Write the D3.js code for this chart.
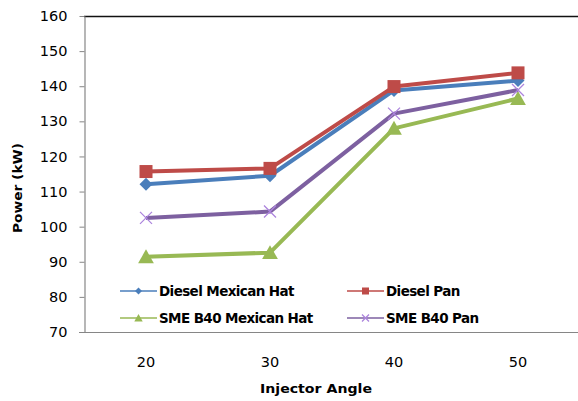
<!DOCTYPE html>
<html>
<head>
<meta charset="utf-8">
<script src="https://cdn.jsdelivr.net/npm/d3@7"></script>
<style>
  html, body { margin: 0; padding: 0; background: #fff; }
  svg { display: block; }
  text { font-family: "DejaVu Sans", Verdana, sans-serif; fill: #000; }
</style>
</head>
<body>
<svg id="chart" width="578" height="401"></svg>
<script>
// Injector angle categories (degrees)
const angles = ["20", "30", "40", "50"];

// Engine power (kW) for each fuel / piston-bowl combination
const dieselMexicanHat = [112.1, 114.5, 138.8, 141.6];
const dieselPan        = [115.7, 116.6, 139.9, 143.8];
const smeMexicanHat    = [91.4, 92.6, 128.0, 136.5];
const smePan           = [102.5, 104.3, 132.2, 138.9];

const seriesNames  = ["Diesel Mexican Hat", "Diesel Pan", "SME B40 Mexican Hat", "SME B40 Pan"];
const seriesColors = ["#4a7ebb", "#be4b48", "#98b954", "#7d60a0"];
const seriesMarks  = ["diamond", "square", "triangle", "cross"];

const yTicks = [70, 80, 90, 100, 110, 120, 130, 140, 150, 160];

const series = [dieselMexicanHat, dieselPan, smeMexicanHat, smePan].map((values, i) => ({
  name: seriesNames[i], color: seriesColors[i], mark: seriesMarks[i], values
}));

const svg = d3.select("#chart");
const plot = { left: 84, right: 580, top: 16, bottom: 332 };

const x = d3.scaleBand().domain(angles).range([plot.left, plot.right]);
const y = d3.scaleLinear().domain([70, 160]).range([plot.bottom, plot.top]);

// Plot frame: dark top border, grey value/category axes
svg.append("line")
  .attr("x1", plot.left).attr("x2", plot.right)
  .attr("y1", plot.top + 0.5).attr("y2", plot.top + 0.5)
  .attr("stroke", "#111").attr("stroke-width", 1.4);

const yAxis = svg.append("g")
  .attr("transform", `translate(${plot.left + 0.5},0)`)
  .call(d3.axisLeft(y).tickValues(yTicks).tickSize(5).tickPadding(12).tickSizeOuter(0));
yAxis.select(".domain").attr("stroke", "#868686").attr("stroke-width", 1.2);
yAxis.selectAll(".tick line").attr("stroke", "#868686");
yAxis.selectAll(".tick text")
  .style("font-family", '"DejaVu Sans", Verdana, sans-serif')
  .style("font-size", "14.5px").attr("fill", "#000");

const xAxis = svg.append("g")
  .attr("transform", `translate(0,${plot.bottom + 0.5})`)
  .call(d3.axisBottom(x).tickSize(0).tickPadding(24).tickSizeOuter(0));
xAxis.select(".domain").attr("stroke", "#868686").attr("stroke-width", 1.2)
  .attr("d", `M${plot.left - 5},0H${plot.right}`);
xAxis.selectAll(".tick text")
  .style("font-family", '"DejaVu Sans", Verdana, sans-serif')
  .style("font-size", "14.5px").attr("fill", "#000");

// Axis titles
svg.append("text")
  .attr("x", 316).attr("y", 393)
  .attr("text-anchor", "middle")
  .style("font-weight", "bold").style("font-size", "13px")
  .attr("textLength", 112).attr("lengthAdjust", "spacingAndGlyphs")
  .text("Injector Angle");

svg.append("text")
  .attr("transform", "translate(22,188) rotate(-90)")
  .attr("text-anchor", "middle")
  .style("font-weight", "bold").style("font-size", "13px")
  .attr("textLength", 90).attr("lengthAdjust", "spacingAndGlyphs")
  .text("Power (kW)");

// Marker drawing helper
function drawMarker(g, kind, color, cx, cy, s) {
  if (kind === "diamond") {
    g.append("path")
      .attr("d", `M${cx},${cy - s}L${cx + s},${cy}L${cx},${cy + s}L${cx - s},${cy}Z`)
      .attr("fill", color);
  } else if (kind === "square") {
    g.append("rect")
      .attr("x", cx - s).attr("y", cy - s)
      .attr("width", 2 * s).attr("height", 2 * s)
      .attr("fill", color);
  } else if (kind === "triangle") {
    g.append("path")
      .attr("d", `M${cx},${cy - s}L${cx + s * 1.05},${cy + s * 0.85}L${cx - s * 1.05},${cy + s * 0.85}Z`)
      .attr("fill", color);
  } else {
    const c = d3.color(color).brighter(0.9);
    g.append("path")
      .attr("d", `M${cx - s},${cy - s}L${cx + s},${cy + s}M${cx - s},${cy + s}L${cx + s},${cy - s}`)
      .attr("stroke", c).attr("stroke-width", 1.3).attr("fill", "none");
  }
}

const markerSize = { diamond: 6.5, square: 6.5, triangle: 7.5, cross: 6 };

const line = d3.line()
  .x((d, i) => x(angles[i]) + x.bandwidth() / 2)
  .y(d => y(d));

// Draw in back-to-front order so the diesel series sit on top
const drawOrder = [2, 3, 0, 1];
drawOrder.forEach(k => {
  const s = series[k];
  const g = svg.append("g");
  g.append("path")
    .datum(s.values)
    .attr("d", line)
    .attr("fill", "none")
    .attr("stroke", s.color)
    .attr("stroke-width", 4)
    .attr("stroke-linejoin", "round");
  s.values.forEach((v, i) => {
    drawMarker(g, s.mark, s.color, x(angles[i]) + x.bandwidth() / 2, y(v), markerSize[s.mark]);
  });
});

// Legend, two columns by two rows
const legendCols = [120, 347];
const legendRows = [291, 318];
series.forEach((s, i) => {
  const lx = legendCols[i % 2];
  const ly = legendRows[Math.floor(i / 2)];
  const g = svg.append("g");
  g.append("line")
    .attr("x1", lx).attr("x2", lx + 37)
    .attr("y1", ly).attr("y2", ly)
    .attr("stroke", s.color).attr("stroke-width", 1.5);
  drawMarker(g, s.mark, s.color, lx + 18.5, ly, s.mark === "triangle" ? 4 : 3.5);
  g.append("text")
    .attr("x", lx + 39).attr("y", ly + 5)
    .style("font-weight", "bold").style("font-size", "13.5px")
    .style("letter-spacing", "-0.6px")
    .text(s.name);
});
</script>
</body>
</html>
